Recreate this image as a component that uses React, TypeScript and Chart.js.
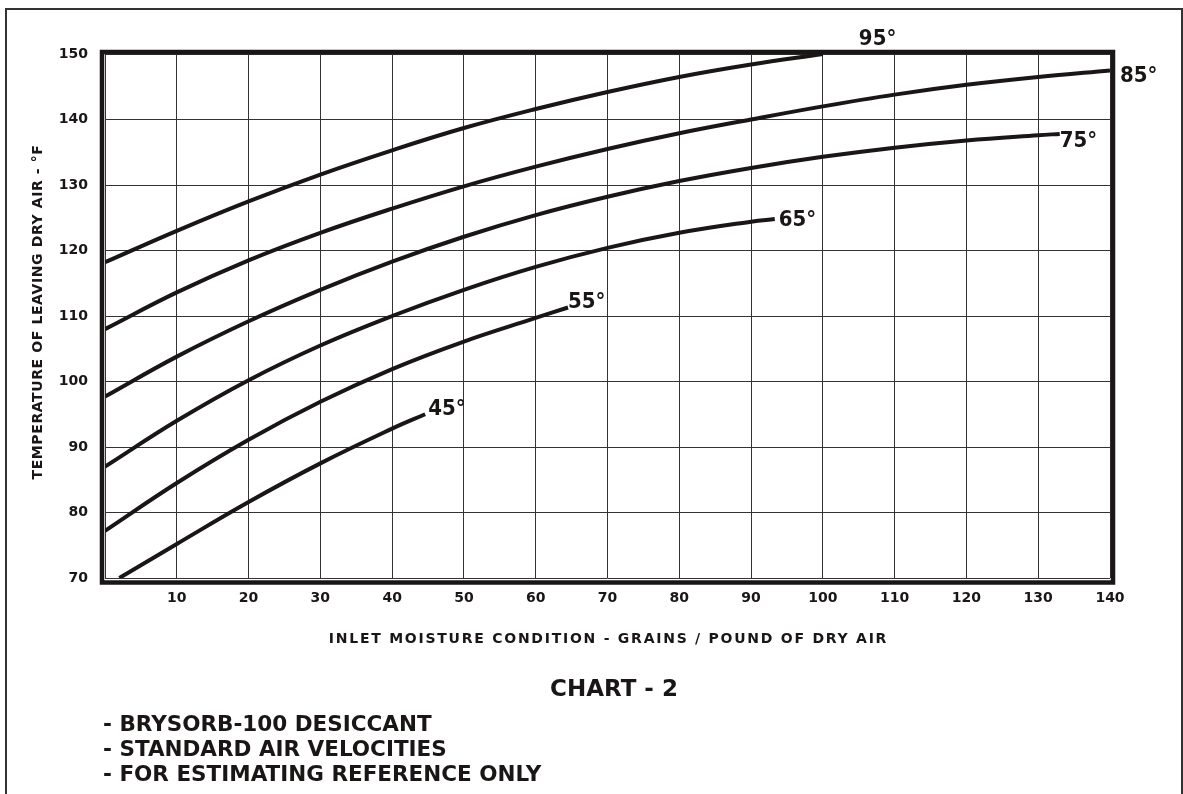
import React, { useEffect, useRef } from "react";
import { Chart, registerables } from "chart.js";

Chart.register(...registerables);

// ---- data ----
const xTickValues = [0, 10, 20, 30, 40, 50, 60, 70, 80, 90, 100, 110, 120, 130, 140];
const yTickValues = [70, 80, 90, 100, 110, 120, 130, 140, 150];

const curveLabels = ["95°", "85°", "75°", "65°", "55°", "45°"];

const x95 = [0, 10, 20, 30, 40, 50, 60, 70, 80, 90, 100];
const y95 = [118.2, 123.0, 127.5, 131.6, 135.3, 138.7, 141.6, 144.2, 146.5, 148.4, 150.0];

const x85 = [0, 10, 20, 30, 40, 50, 60, 70, 80, 90, 100, 110, 120, 130, 140];
const y85 = [108.0, 113.6, 118.5, 122.7, 126.4, 129.8, 132.8, 135.5, 137.9, 140.0, 142.0, 143.8, 145.3, 146.5, 147.5];

const x75 = [0, 10, 20, 30, 40, 50, 60, 70, 80, 90, 100, 110, 120, 130, 133];
const y75 = [97.7, 103.8, 109.2, 114.0, 118.3, 122.1, 125.4, 128.2, 130.6, 132.6, 134.3, 135.7, 136.8, 137.6, 137.8];

const x65 = [0, 10, 20, 30, 40, 50, 60, 70, 80, 90, 93.3];
const y65 = [87.0, 94.0, 100.2, 105.5, 110.0, 114.0, 117.5, 120.4, 122.7, 124.4, 124.8];

const x55 = [0, 10, 20, 30, 40, 50, 60, 64.5];
const y55 = [77.2, 84.5, 91.1, 96.9, 101.9, 106.1, 109.7, 111.3];

const x45 = [2, 10, 20, 30, 40, 44.6];
const y45 = [70.0, 75.2, 81.6, 87.5, 92.8, 95.0];

const xTitle = "INLET MOISTURE CONDITION - GRAINS / POUND OF DRY AIR";
const yTitle = "TEMPERATURE OF LEAVING DRY AIR - °F";
const chartName = "CHART - 2";
const notes = ["- BRYSORB-100 DESICCANT", "- STANDARD AIR VELOCITIES", "- FOR ESTIMATING REFERENCE ONLY"];

const INK = "#1a1616";
const CONDENSED = "'DejaVu Sans Condensed', 'DejaVu Sans', sans-serif";
const WIDE = "'DejaVu Sans', Verdana, sans-serif";

// label offsets (pixels) from the last point of each curve: [dx, dy]
const labelOffsets: [number, number][] = [
  [36, -9],
  [10, 12],
  [0, 13.5],
  [4, 6.5],
  [0, 1],
  [3, 1],
];

function toPoints(xs: number[], ys: number[]) {
  return xs.map((x, i) => ({ x, y: ys[i] }));
}

const curveLabelPlugin = {
  id: "curveLabels",
  afterDatasetsDraw(chart: any) {
    const ctx = chart.ctx;
    ctx.save();
    ctx.fillStyle = INK;
    ctx.font = `bold 22px ${CONDENSED}`;
    ctx.textAlign = "left";
    ctx.textBaseline = "alphabetic";
    chart.data.datasets.forEach((ds: any, i: number) => {
      const meta = chart.getDatasetMeta(i);
      const last = meta.data[meta.data.length - 1];
      if (!last) return;
      const [dx, dy] = labelOffsets[i];
      ctx.fillText(ds.label, last.x + dx, last.y + dy);
    });
    ctx.restore();
  },
};

const framePlugin = {
  id: "plotFrame",
  beforeDatasetsDraw(chart: any) {
    const { ctx, chartArea } = chart;
    const l = chartArea.left - 3;
    const t = chartArea.top - 2;
    const r = chartArea.right + 3;
    const b = chartArea.bottom + 4.5;
    ctx.save();
    ctx.strokeStyle = INK;
    ctx.lineWidth = 4.5;
    ctx.strokeRect(l, t, r - l, b - t);
    ctx.restore();
  },
};

// axis titles, drawn with letter spacing like the original artwork
const axisTitlePlugin = {
  id: "axisTitles",
  afterDraw(chart: any) {
    const { ctx, chartArea } = chart;
    ctx.save();
    ctx.fillStyle = INK;
    ctx.textAlign = "center";
    ctx.textBaseline = "middle";
    ctx.font = `bold 14px ${WIDE}`;
    (ctx as any).letterSpacing = "1.75px";
    ctx.fillText(xTitle, (chartArea.left + chartArea.right) / 2 + 1, chartArea.bottom + 61);
    (ctx as any).letterSpacing = "0.6px";
    ctx.translate(38, (chartArea.top + chartArea.bottom) / 2 - 4);
    ctx.rotate(-Math.PI / 2);
    ctx.fillText(yTitle, 0, 0);
    ctx.restore();
  },
};

export default function App() {
  const canvasRef = useRef<HTMLCanvasElement | null>(null);

  useEffect(() => {
    if (!canvasRef.current) return;
    const series = [
      toPoints(x95, y95),
      toPoints(x85, y85),
      toPoints(x75, y75),
      toPoints(x65, y65),
      toPoints(x55, y55),
      toPoints(x45, y45),
    ];
    const chart = new Chart(canvasRef.current, {
      type: "line",
      data: {
        datasets: series.map((pts, i) => ({
          label: curveLabels[i],
          data: pts,
          borderColor: INK,
          borderWidth: 4,
          pointRadius: 0,
          fill: false,
          tension: 0.4,
        })),
      },
      options: {
        responsive: false,
        animation: false,
        events: [],
        layout: { padding: { left: 0, top: 54, right: 73, bottom: 126 } },
        plugins: {
          legend: { display: false },
          tooltip: { enabled: false },
        },
        scales: {
          x: {
            type: "linear",
            min: 0,
            max: 140,
            afterFit: (s: any) => {
              s.height = 90;
            },
            afterBuildTicks: (s: any) => {
              s.ticks = xTickValues.map((v) => ({ value: v }));
            },
            ticks: {
              color: INK,
              font: { family: WIDE, weight: "bold", size: 14 },
              padding: 12,
              maxRotation: 0,
              autoSkip: false,
              callback: (v: any) => (v === 0 ? "" : String(v)),
            },
            grid: { color: "#333333", lineWidth: 1, drawTicks: false },
            border: { display: false },
            title: { display: false, text: xTitle },
          },
          y: {
            type: "linear",
            min: 70,
            max: 150,
            afterFit: (s: any) => {
              s.width = 105;
            },
            afterBuildTicks: (s: any) => {
              s.ticks = yTickValues.map((v) => ({ value: v }));
            },
            ticks: {
              color: INK,
              font: { family: WIDE, weight: "bold", size: 14 },
              padding: 17,
              autoSkip: false,
            },
            grid: { color: "#333333", lineWidth: 1, drawTicks: false },
            border: { display: false },
            title: { display: false, text: yTitle },
          },
        },
      },
      plugins: [framePlugin, curveLabelPlugin, axisTitlePlugin],
    });
    return () => chart.destroy();
  }, []);

  return (
    <div
      style={{
        position: "fixed",
        left: 0,
        top: 0,
        width: 1183,
        height: 794,
        overflow: "hidden",
        background: "#ffffff",
      }}
    >
      <div
        style={{
          position: "absolute",
          left: 5,
          top: 8,
          width: 1174,
          height: 820,
          border: "2px solid #333333",
        }}
      />
      <canvas
        ref={canvasRef}
        width={1183}
        height={794}
        style={{ position: "absolute", left: 0, top: 0, width: 1183, height: 794 }}
      />
      <div
        style={{
          position: "absolute",
          left: 0,
          width: 1228,
          top: 674,
          textAlign: "center",
          fontFamily: WIDE,
          fontWeight: "bold",
          fontSize: 23,
          lineHeight: "28px",
          color: INK,
          whiteSpace: "nowrap",
        }}
      >
        {chartName}
      </div>
      <div
        style={{
          position: "absolute",
          left: 103,
          top: 711,
          fontFamily: WIDE,
          fontWeight: "bold",
          fontSize: 21.5,
          lineHeight: "25px",
          color: INK,
          whiteSpace: "nowrap",
        }}
      >
        {notes.map((n) => (
          <div key={n}>{n}</div>
        ))}
      </div>
    </div>
  );
}
